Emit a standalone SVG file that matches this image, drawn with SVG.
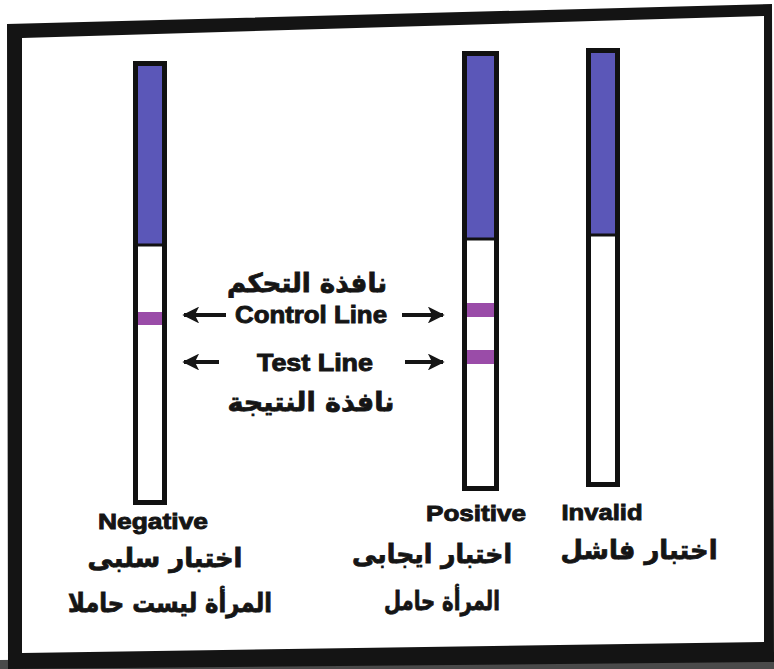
<svg xmlns="http://www.w3.org/2000/svg" width="774" height="669" viewBox="0 0 774 669">
<style>
.strip{fill:#ffffff;stroke:#111;stroke-width:5}
.blue{fill:#5b57b8}
.band{fill:#9a4ca8}
.en{font-family:"Liberation Sans","DejaVu Sans",sans-serif;font-weight:bold;fill:#151515;stroke:#151515;stroke-width:0.9}
.ar{font-family:"DejaVu Sans","Noto Sans",sans-serif;font-weight:bold;fill:#151515;stroke:#151515;stroke-width:0.8}
.arrow{stroke:#151515;stroke-width:4;fill:none}
</style>
<defs>
<marker id="head" viewBox="0 0 10 10" refX="9" refY="5" markerWidth="4.2" markerHeight="4.2" orient="auto-start-reverse" markerUnits="strokeWidth">
<path d="M0,0 L10,5 L0,10 L2.5,5 Z" fill="#151515"/>
</marker>
</defs>
<rect x="0" y="0" width="774" height="669" fill="#ffffff"/>
<polygon points="0,660 774,652 774,669 0,669" fill="#4a4a4a"/>
<g id="frame">
<path fill="#141414" fill-rule="evenodd" d="M7,24 L772,4 L774,662 L8,669 Z M22,38 L764,16 L764,642 L22,653 Z"/>
</g>
<g id="negative">
<rect class="strip" x="135.5" y="63.5" width="29" height="439"/>
<rect class="blue" x="138" y="66" width="24" height="178"/>
<line x1="138" y1="245" x2="162" y2="245" stroke="#111" stroke-width="3"/>
<rect class="band" x="138" y="312" width="24" height="13"/>
<text class="en" x="153" y="529" font-size="22" text-anchor="middle" textLength="110" lengthAdjust="spacingAndGlyphs">Negative</text>
<text class="ar" x="165" y="567" font-size="26" text-anchor="middle" direction="rtl" textLength="155" lengthAdjust="spacingAndGlyphs">اختبار سلبى</text>
<text class="ar" x="170" y="612" font-size="26" text-anchor="middle" direction="rtl" textLength="204" lengthAdjust="spacingAndGlyphs">المرأة ليست حاملا</text>
</g>
<g id="positive">
<rect class="strip" x="464.5" y="53.5" width="32" height="435"/>
<rect class="blue" x="467" y="56" width="27" height="182"/>
<line x1="467" y1="239" x2="494" y2="239" stroke="#111" stroke-width="3"/>
<rect class="band" x="467" y="303" width="27" height="14"/>
<rect class="band" x="467" y="350" width="27" height="14"/>
<text class="en" x="476" y="521" font-size="22" text-anchor="middle" textLength="100" lengthAdjust="spacingAndGlyphs">Positive</text>
<text class="ar" x="432" y="563" font-size="26" text-anchor="middle" direction="rtl" textLength="160" lengthAdjust="spacingAndGlyphs">اختبار ايجابى</text>
<text class="ar" x="442" y="610" font-size="26" text-anchor="middle" direction="rtl" textLength="116" lengthAdjust="spacingAndGlyphs">المرأة حامل</text>
</g>
<g id="invalid">
<rect class="strip" x="588.5" y="50.5" width="29" height="434"/>
<rect class="blue" x="591" y="53" width="24" height="181"/>
<line x1="591" y1="235" x2="615" y2="235" stroke="#111" stroke-width="3"/>
<text class="en" x="602" y="520" font-size="22" text-anchor="middle" textLength="81" lengthAdjust="spacingAndGlyphs">Invalid</text>
<text class="ar" x="639" y="559" font-size="26" text-anchor="middle" direction="rtl" textLength="157" lengthAdjust="spacingAndGlyphs">اختبار فاشل</text>
</g>
<g id="labels">
<text class="ar" x="307" y="292" font-size="26" text-anchor="middle" direction="rtl" textLength="160" lengthAdjust="spacingAndGlyphs">نافذة التحكم</text>
<text class="en" x="311" y="323" font-size="23" text-anchor="middle" textLength="152" lengthAdjust="spacingAndGlyphs">Control Line</text>
<text class="en" x="315" y="371" font-size="23" text-anchor="middle" textLength="116" lengthAdjust="spacingAndGlyphs">Test Line</text>
<text class="ar" x="311" y="411" font-size="26" text-anchor="middle" direction="rtl" textLength="167" lengthAdjust="spacingAndGlyphs">نافذة النتيجة</text>
</g>
<g id="connectors">
<line class="arrow" x1="226" y1="315" x2="184" y2="315" marker-end="url(#head)"/>
<line class="arrow" x1="402" y1="315" x2="443" y2="315" marker-end="url(#head)"/>
<line class="arrow" x1="219" y1="362" x2="184" y2="362" marker-end="url(#head)"/>
<line class="arrow" x1="405" y1="362" x2="443" y2="362" marker-end="url(#head)"/>
</g>
</svg>
